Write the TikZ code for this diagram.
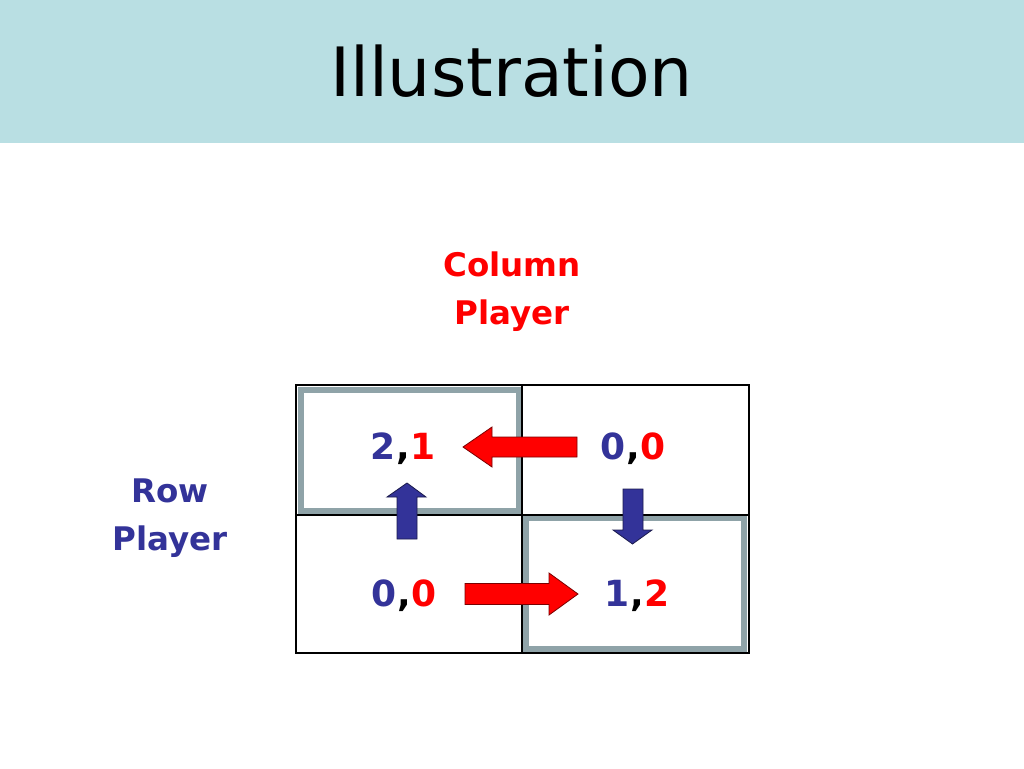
\documentclass[tikz,border=0pt]{standalone}
\usepackage{fontspec}
\setmainfont{DejaVu Sans}
\begin{document}
\begin{tikzpicture}[x=1pt,y=-1pt,
  txt/.style={inner sep=0pt,anchor=base},
  lbl/.style={txt,font=\fontsize{32.5}{38}\selectfont\bfseries,align=center},
  pay/.style={txt,font=\fontsize{36}{42}\selectfont\bfseries},
  redarrow/.style={fill=pred,draw=darkred,line width=0.8pt,line join=miter},
  bluearrow/.style={fill=pblue,draw=darkblue,line width=0.8pt,line join=miter},
  grid/.style={draw=black,line width=2.8pt},
  hi/.style={draw=hgray,line width=6pt}]
\definecolor{pblue}{HTML}{333399}
\definecolor{pred}{HTML}{FF0000}
\definecolor{darkred}{HTML}{7A0000}
\definecolor{darkblue}{HTML}{1A1A4D}
\definecolor{hgray}{HTML}{8FA3A8}
\definecolor{band}{HTML}{B9DFE3}
\useasboundingbox (0,0) rectangle (1024,768);
\fill[white] (0,0) rectangle (1024,768);
\fill[band] (0,0) rectangle (1024,143);
\node[txt,font=\fontsize{68}{74}\selectfont] (title) at (511.5,96) {Illustration};
% labels
\node[lbl,text=pred] (col1) at (512,276) {Column};
\node[lbl,text=pred] (col2) at (512,324) {Player};
\node[lbl,text=pblue] (row1) at (170,502) {Row};
\node[lbl,text=pblue] (row2) at (170,550) {Player};
% highlighted cells
\draw[hi] (301,390) rectangle (519,511);
\draw[hi] (526,518) rectangle (744,649);
% grid
\draw[grid] (296,385) rectangle (749,653);
\draw[grid] (522,385) -- (522,653);
\draw[grid] (296,515) -- (749,515);
% arrows
\draw[redarrow] (463,447) -- (492,427) -- (492,437) -- (577,437) -- (577,457) -- (492,457) -- (492,467) -- cycle;
\draw[redarrow] (578,594) -- (549,573) -- (549,583.5) -- (465,583.5) -- (465,604.5) -- (549,604.5) -- (549,615) -- cycle;
\draw[bluearrow] (407,483) -- (426,497) -- (417,497) -- (417,539) -- (397,539) -- (397,497) -- (387,497) -- cycle;
\draw[bluearrow] (632.5,544) -- (652,530) -- (643,530) -- (643,489) -- (623,489) -- (623,530) -- (613,530) -- cycle;
% payoffs
\node[pay] (p11) at (403,459) {\textcolor{pblue}{2}\kern1pt\textcolor{black}{,}\kern1pt\textcolor{pred}{1}};
\node[pay] (p12) at (633,459) {\textcolor{pblue}{0}\kern1pt\textcolor{black}{,}\kern1pt\textcolor{pred}{0}};
\node[pay] (p21) at (404,606) {\textcolor{pblue}{0}\kern1pt\textcolor{black}{,}\kern1pt\textcolor{pred}{0}};
\node[pay] (p22) at (637,606) {\textcolor{pblue}{1}\kern1pt\textcolor{black}{,}\kern1pt\textcolor{pred}{2}};
\end{tikzpicture}
\end{document}
